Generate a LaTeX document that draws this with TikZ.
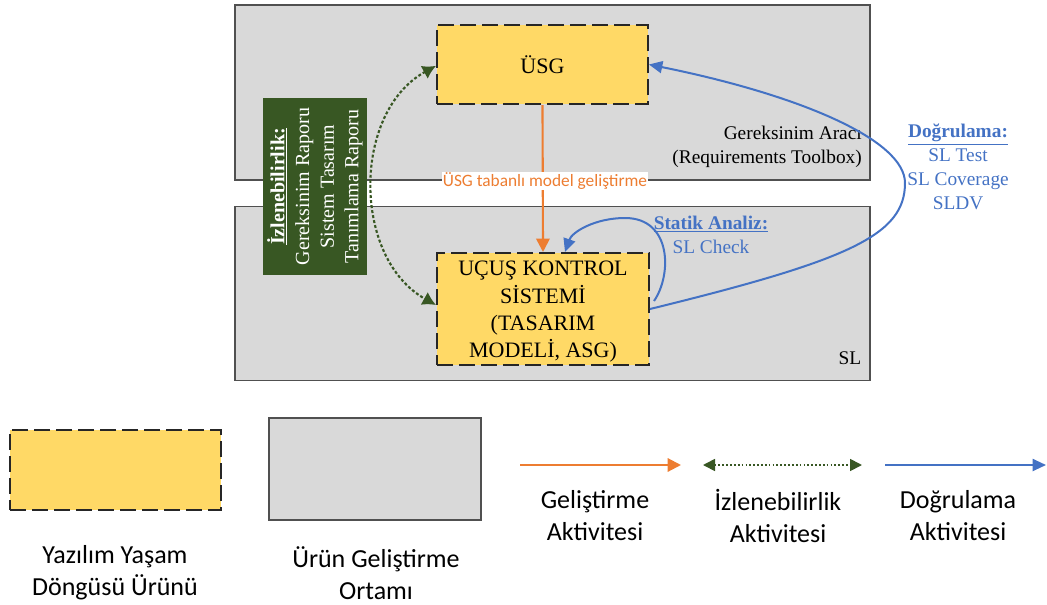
\documentclass[tikz,border=0pt]{standalone}
\usepackage{fontspec}
\setmainfont{Liberation Serif}
\newfontfamily\calib{Carlito}
\usetikzlibrary{arrows.meta}
\newdimen\pxu \pxu=0.75pt
\definecolor{envgray}{HTML}{D9D9D9}
\definecolor{envline}{HTML}{505050}
\definecolor{artyellow}{HTML}{FFD966}
\definecolor{devorange}{HTML}{ED7D31}
\definecolor{verblue}{HTML}{4472C4}
\definecolor{trgreen}{HTML}{385723}
\tikzset{
  envbox/.style={draw=envline, fill=envgray, line width=0.9pt, inner sep=0pt},
  artbox/.style={draw=black!85, fill=artyellow, line width=1.5pt,
    dash pattern=on 12pt off 4.5pt, inner sep=0pt, align=center,
    font=\fontsize{16.5}{20.5}\selectfont},
  arttext/.style={inner sep=0pt, align=center, font=\fontsize{16.5}{20.5}\selectfont},
  sertext/.style={inner sep=0pt, font=\fontsize{14.5}{18}\selectfont},
  bluetext/.style={sertext, text=verblue, align=center},
  legtext/.style={inner sep=0pt, align=center, font=\calib\fontsize{19.5}{24}\selectfont},
  devarrow/.style={draw=devorange, line width=1.6pt,
    -{Triangle[length=10pt,width=10pt]}},
  trarrow/.style={draw=trgreen, line width=1.6pt, dash pattern=on 2.2pt off 1.6pt,
    {Latex[length=10pt,width=11pt,fill=trgreen]}-{Latex[length=10pt,width=11pt,fill=trgreen]}},
  verarrow/.style={draw=verblue, line width=1.5pt,
    -{Triangle[length=10pt,width=9pt]}},
}
\begin{document}
\begin{tikzpicture}[x=0.75pt, y=-0.75pt]
\useasboundingbox (0,0) rectangle (1047,604);

% development environments
\node[envbox, minimum width=635\pxu, minimum height=175\pxu] (reqenv) at (552.5,92.5) {};
\node[envbox, minimum width=635\pxu, minimum height=174\pxu] (slenv) at (552.5,293.5) {};

\node[sertext, anchor=east, align=right] (reqtool) at (862,147)
  {Gereksinim Aracı\\(Requirements Toolbox)};
\node[sertext] (sllabel) at (850,358) {SL};

% life-cycle artefacts
\node[artbox, minimum width=211\pxu, minimum height=79\pxu] (usg) at (542.5,64.5) {ÜSG};
\node[artbox, minimum width=212\pxu, minimum height=112\pxu] (ucus) at (543,309) {};
\node[arttext] (ucustext) at (543,312)
  {UÇUŞ KONTROL\\SİSTEMİ\\(TASARIM\\MODELİ, ASG)};

% traceability reports
\node[fill=trgreen, minimum width=104\pxu, minimum height=177\pxu, inner sep=0pt] (trbox) at (315,186.5) {};
\node[rotate=90, text=white, align=center, inner sep=0pt,
      font=\fontsize{15}{18.5}\selectfont] (trtext) at (trbox.center)
  {\textbf{\underline{İzlenebilirlik:}}\\Gereksinim Raporu\\Sistem Tasarım\\Tanımlama Raporu};

% development activity
\draw[devarrow] (usg.south) -- (ucus.north);
\node[fill=white, inner sep=0.6pt, text=devorange, font=\calib\fontsize{13}{15}\selectfont]
  (devlabel) at (545,181) {ÜSG tabanlı model geliştirme};

% traceability activity
\draw[trarrow] ([yshift=-1pt]usg.west) .. controls (352,112) and (352,258) .. ([yshift=3pt]ucus.west);

% static analysis loop
\draw[verarrow] ([xshift=3pt,yshift=6pt]ucus.east)
  .. controls (672,275) and (672,218) .. (625,218)
  .. controls (595,218) and (572,232) .. ([xshift=16.5pt]ucus.north);
\node[bluetext] (statik) at (711,235)
  {\textbf{\underline{Statik Analiz:}}\\SL Check};

% verification
\draw[verarrow] (ucus.east)
  .. controls (850,260) and (905,235) .. (905,183)
  .. controls (905,140) and (800,95) .. (usg.east);
\node[bluetext] (dogru) at (958,167)
  {\textbf{\underline{Doğrulama:}}\\SL Test\\SL Coverage\\SLDV};

% legend
\node[artbox, minimum width=211\pxu, minimum height=80\pxu] (legart) at (115.5,470) {};
\node[envbox, minimum width=212\pxu, minimum height=102\pxu] (legenv) at (375,469) {};
\node[legtext] (legarttext) at (115,573) {Yazılım Yaşam\\Döngüsü Ürünü};
\node[legtext] (legenvtext) at (376,573) {Ürün Geliştirme\\Ortamı};

\coordinate (devA) at (520,465);
\coordinate (devB) at (681,465);
\coordinate (trA) at (703,465);
\coordinate (trB) at (862,465);
\coordinate (verA) at (885,465);
\coordinate (verB) at (1046,465);
\draw[devarrow] (devA) -- (devB);
\draw[draw=trgreen, line width=1.3pt, dash pattern=on 1.3pt off 1.6pt,
  {Triangle[length=9pt,width=9pt,fill=trgreen]}-{Triangle[length=9pt,width=9pt,fill=trgreen]}] (trA) -- (trB);
\draw[verarrow] (verA) -- (verB);

\node[legtext] (legdev) at (595,516) {Geliştirme\\Aktivitesi};
\node[legtext] (legtr) at (778,516) {İzlenebilirlik\\Aktivitesi};
\node[legtext] (legver) at (958,516) {Doğrulama\\Aktivitesi};
\end{tikzpicture}
\end{document}
